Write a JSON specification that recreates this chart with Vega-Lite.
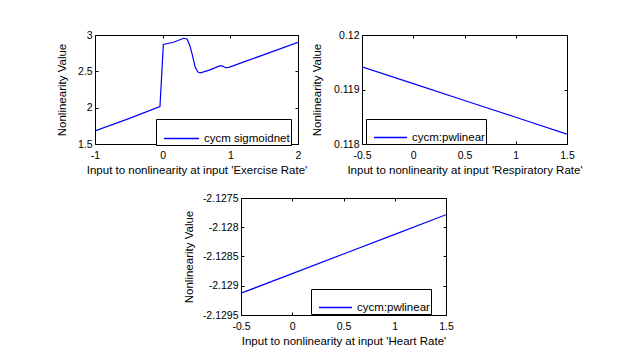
{
  "$schema": "https://vega.github.io/schema/vega-lite/v6.json",
  "background": "white",
  "padding": {"left": 55, "top": 29, "right": 5, "bottom": 5},
  "config": {
    "font": "Liberation Sans",
    "view": {"stroke": "black", "strokeWidth": 1},
    "axis": {
      "grid": false,
      "domain": false,
      "tickColor": "black",
      "tickSize": -3,
      "labelColor": "black",
      "labelFont": "Liberation Sans",
      "labelFontSize": 10.5,
      "titleFont": "Liberation Sans",
      "titleFontSize": 11.5,
      "titleFontWeight": "normal",
      "titleColor": "black"
    },
    "axisX": {"labelPadding": 9, "titlePadding": 4},
    "axisY": {"labelPadding": 6},
    "legend": {
      "strokeColor": "black",
      "fillColor": "white",
      "cornerRadius": 0,
      "padding": 1,
      "symbolOffset": 6,
      "labelFont": "Liberation Sans",
      "labelFontSize": 11.5,
      "labelColor": "black",
      "symbolType": "stroke",
      "symbolStrokeColor": "#0000ff",
      "symbolStrokeWidth": 1.5,
      "labelOffset": 4
    }
  },
  "bounds": "full",
  "spacing": 15,
  "resolve": {"scale": {"color": "independent", "x": "independent", "y": "independent"}, "legend": {"color": "independent"}},
  "vconcat": [
    {
      "bounds": "flush",
      "spacing": 64,
      "resolve": {"scale": {"color": "independent", "x": "independent", "y": "independent"}, "legend": {"color": "independent"}},
      "hconcat": [
        {
          "width": 203,
          "height": 109,
          "data": {"values": [
            {"x": -1.0, "y": 1.68, "series": "cycm sigmoidnet"},
            {"x": -0.5, "y": 1.85, "series": "cycm sigmoidnet"},
            {"x": -0.04, "y": 2.014, "series": "cycm sigmoidnet"},
            {"x": 0.01, "y": 2.87, "series": "cycm sigmoidnet"},
            {"x": 0.16, "y": 2.9, "series": "cycm sigmoidnet"},
            {"x": 0.31, "y": 2.955, "series": "cycm sigmoidnet"},
            {"x": 0.36, "y": 2.945, "series": "cycm sigmoidnet"},
            {"x": 0.4, "y": 2.86, "series": "cycm sigmoidnet"},
            {"x": 0.44, "y": 2.72, "series": "cycm sigmoidnet"},
            {"x": 0.48, "y": 2.56, "series": "cycm sigmoidnet"},
            {"x": 0.52, "y": 2.49, "series": "cycm sigmoidnet"},
            {"x": 0.56, "y": 2.48, "series": "cycm sigmoidnet"},
            {"x": 0.7, "y": 2.52, "series": "cycm sigmoidnet"},
            {"x": 0.84, "y": 2.575, "series": "cycm sigmoidnet"},
            {"x": 0.88, "y": 2.575, "series": "cycm sigmoidnet"},
            {"x": 0.93, "y": 2.55, "series": "cycm sigmoidnet"},
            {"x": 0.98, "y": 2.555, "series": "cycm sigmoidnet"},
            {"x": 1.23, "y": 2.64, "series": "cycm sigmoidnet"},
            {"x": 1.53, "y": 2.74, "series": "cycm sigmoidnet"},
            {"x": 2.0, "y": 2.9, "series": "cycm sigmoidnet"}
          ]},
          "resolve": {"axis": {"x": "independent", "y": "independent"}},
          "layer": [
            {
              "mark": {"type": "line", "strokeWidth": 1.2, "clip": true},
              "encoding": {
                "x": {"field": "x", "type": "quantitative", "scale": {"domain": [-1, 2], "nice": false, "zero": false},
                      "axis": {"orient": "bottom", "values": [-1, 0, 1, 2], "labelExpr": "'' + datum.value", "title": "Input to nonlinearity at input 'Exercise Rate'", "labelFlush": false}},
                "y": {"field": "y", "type": "quantitative", "scale": {"domain": [1.5, 3], "nice": false, "zero": false},
                      "axis": {"orient": "left", "values": [1.5, 2, 2.5, 3], "labelExpr": "'' + datum.value", "title": "Nonlinearity Value", "titlePadding": 10}},
                "color": {"field": "series", "type": "nominal", "scale": {"range": ["#0000ff"]},
                          "legend": {"title": null, "orient": "none", "legendX": 61, "legendY": 84, "symbolSize": 1225}}
              }
            },
            {
              "mark": {"type": "line", "opacity": 0},
              "encoding": {
                "x": {"field": "x", "type": "quantitative", "axis": {"orient": "top", "values": [-1, 0, 1, 2], "labels": false, "title": null}},
                "y": {"field": "y", "type": "quantitative", "axis": {"orient": "right", "values": [1.5, 2, 2.5, 3], "labels": false, "title": null}}
              }
            }
          ]
        },
        {
          "width": 205,
          "height": 109,
          "data": {"values": [
            {"x": -0.5, "y": 0.119416, "series": "cycm:pwlinear"},
            {"x": 0.0, "y": 0.119108, "series": "cycm:pwlinear"},
            {"x": 0.5, "y": 0.118799, "series": "cycm:pwlinear"},
            {"x": 1.0, "y": 0.118491, "series": "cycm:pwlinear"},
            {"x": 1.5, "y": 0.118182, "series": "cycm:pwlinear"}
          ]},
          "resolve": {"axis": {"x": "independent", "y": "independent"}},
          "layer": [
            {
              "mark": {"type": "line", "strokeWidth": 1.2, "clip": true},
              "encoding": {
                "x": {"field": "x", "type": "quantitative", "scale": {"domain": [-0.5, 1.5], "nice": false, "zero": false},
                      "axis": {"orient": "bottom", "values": [-0.5, 0, 0.5, 1, 1.5], "labelExpr": "'' + datum.value", "title": "Input to nonlinearity at input 'Respiratory Rate'", "labelFlush": false}},
                "y": {"field": "y", "type": "quantitative", "scale": {"domain": [0.118, 0.12], "nice": false, "zero": false},
                      "axis": {"orient": "left", "values": [0.118, 0.119, 0.12], "labelExpr": "'' + datum.value", "title": "Nonlinearity Value", "titlePadding": 11}},
                "color": {"field": "series", "type": "nominal", "scale": {"range": ["#0000ff"]},
                          "legend": {"title": null, "orient": "none", "legendX": 4, "legendY": 84, "symbolSize": 1089}}
              }
            },
            {
              "mark": {"type": "line", "opacity": 0},
              "encoding": {
                "x": {"field": "x", "type": "quantitative", "axis": {"orient": "top", "values": [-0.5, 0, 0.5, 1, 1.5], "labels": false, "title": null}},
                "y": {"field": "y", "type": "quantitative", "axis": {"orient": "right", "values": [0.118, 0.119, 0.12], "labels": false, "title": null}}
              }
            }
          ]
        }
      ]
    },
    {
      "bounds": "flush",
      "spacing": 0,
      "resolve": {"scale": {"color": "independent", "x": "independent", "y": "independent"}, "legend": {"color": "independent"}},
      "hconcat": [
        {
          "width": 146,
          "height": 117,
          "view": {"stroke": null},
          "data": {"values": [{"x": 0}]},
          "mark": {"type": "point", "opacity": 0},
          "encoding": {}
        },
        {
          "width": 205,
          "height": 117,
          "data": {"values": [
            {"x": -0.5, "y": -2.129128, "series": "cycm:pwlinear"},
            {"x": 0.0, "y": -2.128793, "series": "cycm:pwlinear"},
            {"x": 0.5, "y": -2.128457, "series": "cycm:pwlinear"},
            {"x": 1.0, "y": -2.128122, "series": "cycm:pwlinear"},
            {"x": 1.5, "y": -2.127786, "series": "cycm:pwlinear"}
          ]},
          "resolve": {"axis": {"x": "independent", "y": "independent"}},
          "layer": [
            {
              "mark": {"type": "line", "strokeWidth": 1.2, "clip": true},
              "encoding": {
                "x": {"field": "x", "type": "quantitative", "scale": {"domain": [-0.5, 1.5], "nice": false, "zero": false},
                      "axis": {"orient": "bottom", "values": [-0.5, 0, 0.5, 1, 1.5], "labelExpr": "'' + datum.value", "title": "Input to nonlinearity at input 'Heart Rate'", "labelFlush": false}},
                "y": {"field": "y", "type": "quantitative", "scale": {"domain": [-2.1295, -2.1275], "nice": false, "zero": false},
                      "axis": {"orient": "left", "values": [-2.1295, -2.129, -2.1285, -2.128, -2.1275], "labelExpr": "'' + datum.value", "title": "Nonlinearity Value", "titlePadding": 8}},
                "color": {"field": "series", "type": "nominal", "scale": {"range": ["#0000ff"]},
                          "legend": {"title": null, "orient": "none", "legendX": 70, "legendY": 91, "symbolSize": 1089}}
              }
            },
            {
              "mark": {"type": "line", "opacity": 0},
              "encoding": {
                "x": {"field": "x", "type": "quantitative", "axis": {"orient": "top", "values": [-0.5, 0, 0.5, 1, 1.5], "labels": false, "title": null}},
                "y": {"field": "y", "type": "quantitative", "axis": {"orient": "right", "values": [-2.1295, -2.129, -2.1285, -2.128, -2.1275], "labels": false, "title": null}}
              }
            }
          ]
        }
      ]
    }
  ]
}
